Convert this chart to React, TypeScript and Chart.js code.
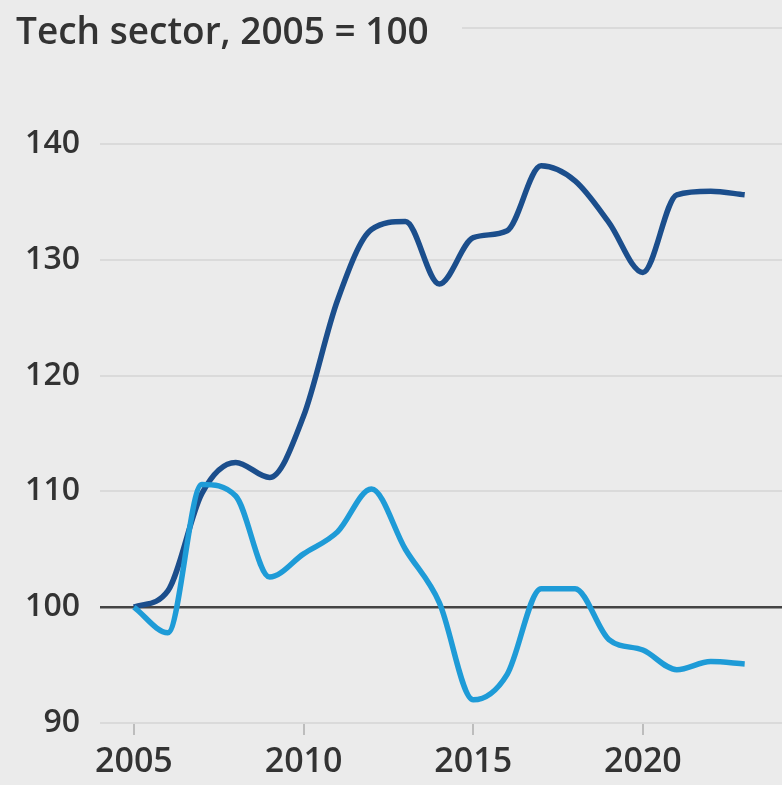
import React, { useEffect, useRef } from "react";
import { Chart, registerables } from "chart.js";

Chart.register(...registerables);

const years = [2005, 2006, 2007, 2008, 2009, 2010, 2011, 2012, 2013, 2014, 2015, 2016, 2017, 2018, 2019, 2020, 2021, 2022, 2023];
const darkSeries = [100, 101.4, 109.8, 112.5, 111.2, 116.5, 126.5, 132.6, 133.3, 127.9, 131.9, 132.5, 138.1, 136.8, 133.2, 128.9, 135.6, 135.9, 135.6];
const lightSeries = [100, 97.8, 110.6, 109.6, 102.6, 104.6, 106.5, 110.2, 105.0, 100.4, 92.0, 94.2, 101.6, 101.6, 97.2, 96.3, 94.6, 95.3, 95.1];
const xTickYears = [2005, 2010, 2015, 2020];
const yTickValues = [90, 100, 110, 120, 130, 140, 150];
const titleText = "Tech sector, 2005 = 100";

const BG = "#ebebeb";
const FONT = "'Open Sans', 'Noto Sans', sans-serif";

export default function App() {
  const ref = useRef<HTMLCanvasElement | null>(null);

  useEffect(() => {
    if (!ref.current) return;
    const titlePlugin = {
      id: "titlePlugin",
      beforeDatasetsDraw(chart: any) {
        const { ctx, chartArea } = chart;
        const y = chart.scales.y.getPixelForValue(150);
        ctx.save();
        ctx.strokeStyle = "#dadada";
        ctx.lineWidth = 2;
        ctx.beginPath();
        ctx.moveTo(462, y);
        ctx.lineTo(chartArea.right, y);
        ctx.stroke();
        ctx.restore();
      },
      afterDraw(chart: any) {
        const { ctx } = chart;
        ctx.save();
        ctx.fillStyle = "#333333";
        ctx.font = `600 37px ${FONT}`;
        ctx.textBaseline = "alphabetic";
        ctx.textAlign = "left";
        ctx.fillText(titleText, 16, 44);
        ctx.restore();
      },
    };

    const chart = new Chart(ref.current, {
      type: "line",
      data: {
        labels: years,
        datasets: [
          {
            data: years.map((x, i) => ({ x, y: lightSeries[i] })),
            borderColor: "#1e9bd7",
            borderWidth: 5.5,
            pointRadius: 0,
            cubicInterpolationMode: "monotone",
            fill: false,
          },
          {
            data: years.map((x, i) => ({ x, y: darkSeries[i] })),
            borderColor: "#1b4e8c",
            borderWidth: 5.5,
            pointRadius: 0,
            cubicInterpolationMode: "monotone",
            fill: false,
          },
        ],
      },
      options: {
        animation: false,
        responsive: false,
        maintainAspectRatio: false,
        layout: { padding: { top: 28, right: 0, left: 0, bottom: 0 } },
        plugins: { legend: { display: false }, tooltip: { enabled: false }, title: { display: false } },
        scales: {
          x: {
            type: "linear",
            min: 2004,
            max: 2024.1,
            afterBuildTicks: (scale: any) => {
              scale.ticks = xTickYears.map((v) => ({ value: v }));
            },
            afterFit: (scale: any) => {
              scale.height = 62;
            },
            border: { display: false },
            grid: { drawOnChartArea: false, drawTicks: true, tickLength: 12, color: "#bdbdbd", lineWidth: 2 },
            ticks: {
              color: "#333333",
              font: { family: FONT, size: 34, weight: "600" },
              padding: 7,
              maxRotation: 0,
              callback: (v: any) => String(v),
            },
          },
          y: {
            min: 90,
            max: 150,
            afterBuildTicks: (scale: any) => {
              scale.ticks = yTickValues.map((v) => ({ value: v }));
            },
            afterFit: (scale: any) => {
              scale.width = 100;
            },
            border: { display: false },
            grid: {
              drawTicks: false,
              color: (c: any) => (c.tick && c.tick.value === 100 ? "#444444" : c.tick && c.tick.value === 150 ? "rgba(0,0,0,0)" : "#dadada"),
              lineWidth: (c: any) => (c.tick && c.tick.value === 100 ? 2.5 : 2),
            },
            ticks: {
              color: "#333333",
              font: (c: any) =>
                c.tick && c.tick.value === 150
                  ? { family: FONT, size: 1, weight: "600" }
                  : { family: FONT, size: 32, weight: "600" },
              padding: 20,
              callback: (v: any) => (v === 150 ? "" : String(v)),
            },
          },
        },
      },
      plugins: [titlePlugin],
    });
    return () => chart.destroy();
  }, []);

  return (
    <div style={{ position: "fixed", left: 0, top: 0, width: 782, height: 785, background: BG }}>
      <canvas ref={ref} width={782} height={785} style={{ width: 782, height: 785, display: "block" }} />
    </div>
  );
}
